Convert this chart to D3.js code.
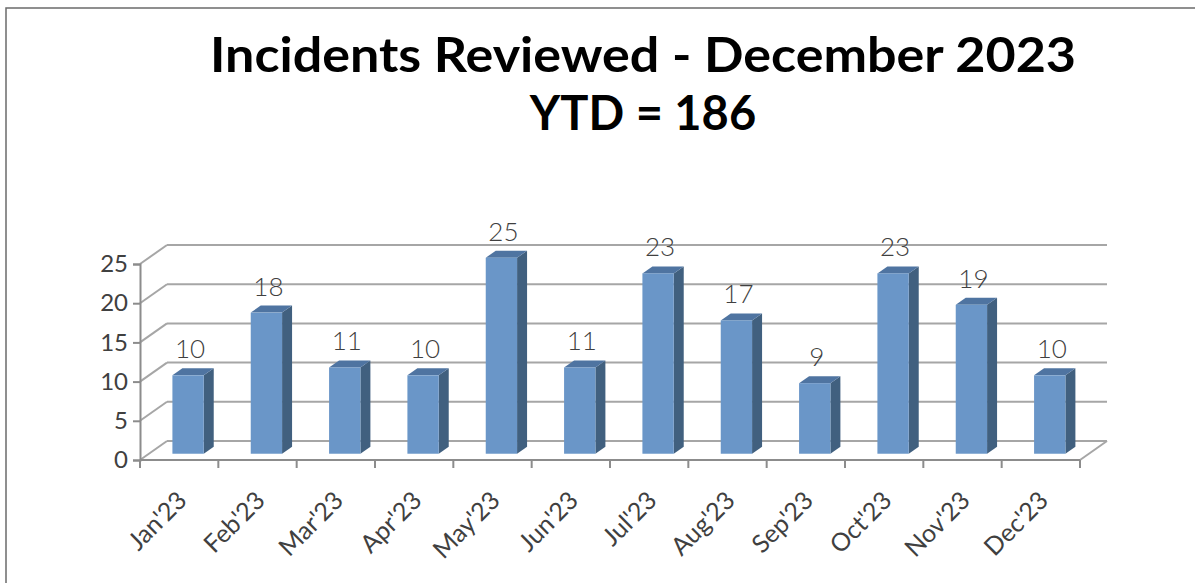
<html>
<head>
  <style type="text/css">
    body { margin: 0; background: #fff; }
    text { font-family: 'Century Gothic', 'Lato', 'DejaVu Sans', sans-serif; }
  </style>
</head>
<body>
  <div id="viz"></div>
  <script src="https://cdnjs.cloudflare.com/ajax/libs/d3/7.8.5/d3.min.js"></script>
  <script>
  // data
  const months = ["Jan'23", "Feb'23", "Mar'23", "Apr'23", "May'23", "Jun'23",
                  "Jul'23", "Aug'23", "Sep'23", "Oct'23", "Nov'23", "Dec'23"];
  const incidents = [10, 18, 11, 10, 25, 11, 23, 17, 9, 23, 19, 10];
  const yTicks = [0, 5, 10, 15, 20, 25];
  const titleLines = ['Incidents Reviewed - December 2023', 'YTD = 186'];

  const W = 1195, H = 583;
  // oblique depth offset of the 3d box
  const DX = 27, DY = -19;
  const barZ0 = 0.33, barZ1 = 0.70;

  const svg = d3.select('#viz').append('svg')
    .attr('width', W)
    .attr('height', H);

  // frame
  svg.append('rect')
    .attr('x', 6).attr('y', 8)
    .attr('width', W + 20).attr('height', H + 20)
    .attr('fill', 'none')
    .attr('stroke', '#6b6b6b')
    .attr('stroke-width', 1.5);

  // title
  svg.selectAll('text.title').data(titleLines)
    .enter().append('text')
      .attr('class', 'title')
      .attr('x', 643)
      .attr('y', (d, i) => 72 + i * 58)
      .attr('text-anchor', 'middle')
      .attr('font-size', 47)
      .attr('font-weight', 'bold')
      .attr('fill', '#000')
      .text(d => d);
  svg.select('text.title')
    .attr('textLength', 866)
    .attr('lengthAdjust', 'spacingAndGlyphs');

  const xScale = d3.scaleBand()
    .domain(months)
    .range([140, 1080])
    .padding(0);

  const yScale = d3.scaleLinear()
    .domain([0, 25])
    .range([460, 264]);

  const x0 = xScale.range()[0], x1 = xScale.range()[1];
  const gridColor = '#a6a6a6';

  // back wall gridlines + side wall diagonals
  const grid = svg.append('g');
  grid.selectAll('line.back').data(yTicks)
    .enter().append('line')
      .attr('x1', x0 + DX).attr('x2', x1 + DX)
      .attr('y1', d => yScale(d) + DY).attr('y2', d => yScale(d) + DY)
      .attr('stroke', gridColor).attr('stroke-width', 2);
  grid.selectAll('line.side').data(yTicks)
    .enter().append('line')
      .attr('x1', x0).attr('x2', x0 + DX)
      .attr('y1', d => yScale(d)).attr('y2', d => yScale(d) + DY)
      .attr('stroke', gridColor).attr('stroke-width', 2);
  // floor right edge
  grid.append('line')
    .attr('x1', x1).attr('x2', x1 + DX)
    .attr('y1', yScale(0)).attr('y2', yScale(0) + DY)
    .attr('stroke', gridColor).attr('stroke-width', 2);

  // y axis
  const yAxis = svg.append('g')
    .attr('transform', 'translate(' + x0 + ',0)')
    .call(d3.axisLeft(yScale).tickValues(yTicks).tickSize(7).tickPadding(5));
  yAxis.select('.domain').attr('stroke', '#8c8c8c').attr('stroke-width', 2);
  yAxis.selectAll('.tick line').attr('stroke', '#8c8c8c').attr('stroke-width', 2);
  yAxis.selectAll('.tick text')
    .attr('font-size', 24)
    .attr('fill', '#404040')
    .attr('font-family', "'Century Gothic', 'Lato', sans-serif");

  // x axis baseline and category boundary ticks
  svg.append('line')
    .attr('x1', x0).attr('x2', x1)
    .attr('y1', yScale(0)).attr('y2', yScale(0))
    .attr('stroke', '#8c8c8c').attr('stroke-width', 2);
  const bounds = months.map(m => xScale(m)).concat([x1]);
  svg.selectAll('line.xtick').data(bounds)
    .enter().append('line')
      .attr('x1', d => d).attr('x2', d => d)
      .attr('y1', yScale(0)).attr('y2', yScale(0) + 8)
      .attr('stroke', '#8c8c8c').attr('stroke-width', 2);

  // x labels
  svg.selectAll('text.xlab').data(months)
    .enter().append('text')
      .attr('text-anchor', 'end')
      .attr('font-size', 25)
      .attr('fill', '#404040')
      .attr('transform', d => {
        const cx = xScale(d) + xScale.bandwidth() / 2 + 9;
        return 'translate(' + cx + ',' + 502 + ') rotate(-45)';
      })
      .text(d => d);

  // bars
  const bw = xScale.bandwidth() * 0.4;
  const barLeft = m => xScale(m) + (xScale.bandwidth() - bw) / 2 + barZ0 * DX;
  const fdx = (barZ1 - barZ0) * DX, fdy = (barZ1 - barZ0) * DY;

  const bars = svg.append('g').selectAll('g').data(months)
    .enter().append('g');

  // side face
  bars.append('path')
    .attr('fill', '#41607f')
    .attr('d', (m, i) => {
      const x = barLeft(m) + bw;
      const yt = yScale(incidents[i]) + barZ0 * DY;
      const yb = yScale(0) + barZ0 * DY;
      return 'M' + x + ',' + yb + 'L' + x + ',' + yt +
             'L' + (x + fdx) + ',' + (yt + fdy) + 'L' + (x + fdx) + ',' + (yb + fdy) + 'Z';
    });
  // top face
  bars.append('path')
    .attr('fill', '#4f74a1')
    .attr('d', (m, i) => {
      const x = barLeft(m);
      const yt = yScale(incidents[i]) + barZ0 * DY;
      return 'M' + x + ',' + yt + 'L' + (x + bw) + ',' + yt +
             'L' + (x + bw + fdx) + ',' + (yt + fdy) + 'L' + (x + fdx) + ',' + (yt + fdy) + 'Z';
    });
  // front face
  bars.append('rect')
    .attr('fill', '#6a96c8')
    .attr('x', m => barLeft(m))
    .attr('width', bw)
    .attr('y', (m, i) => yScale(incidents[i]) + barZ0 * DY)
    .attr('height', (m, i) => yScale(0) - yScale(incidents[i]));

  // value labels
  bars.append('text')
    .attr('text-anchor', 'middle')
    .attr('font-size', 26)
    .attr('font-weight', 300)
    .attr('fill', '#404040')
    .attr('x', m => barLeft(m) + bw / 2 + 2)
    .attr('y', (m, i) => yScale(incidents[i]) + barZ0 * DY - 17)
    .text((m, i) => incidents[i]);
  </script>
</body>
</html>
